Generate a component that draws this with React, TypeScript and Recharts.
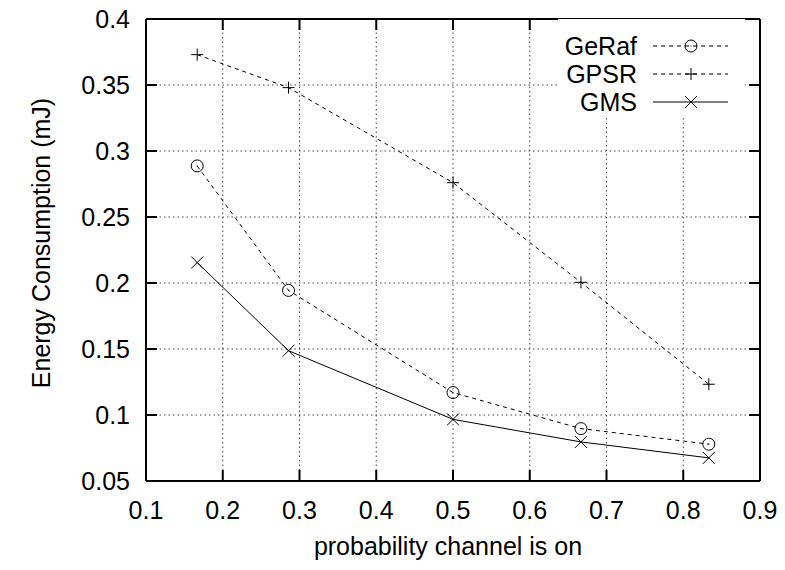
import {
  CartesianGrid,
  Label,
  Legend,
  Line,
  LineChart,
  XAxis,
  YAxis,
} from "recharts";

// probability that the channel is on, one entry per simulated point
const PROBABILITY = [0.1667, 0.2857, 0.5, 0.6667, 0.8333];

// energy consumption in mJ for each protocol
const GERAF = [0.2887, 0.1944, 0.117, 0.0897, 0.0779];
const GPSR = [0.373, 0.348, 0.276, 0.2005, 0.1233];
const GMS = [0.2155, 0.1487, 0.0967, 0.0796, 0.0675];

const X_TICKS = [0.1, 0.2, 0.3, 0.4, 0.5, 0.6, 0.7, 0.8, 0.9];
const Y_TICKS = [0.05, 0.1, 0.15, 0.2, 0.25, 0.3, 0.35, 0.4];

type MarkerKind = "circle" | "plus" | "cross";

const SERIES: { key: string; name: string; dash?: string; marker: MarkerKind }[] = [
  { key: "geraf", name: "GeRaf", dash: "4 4", marker: "circle" },
  { key: "gpsr", name: "GPSR", dash: "4 4", marker: "plus" },
  { key: "gms", name: "GMS", marker: "cross" },
];

const data = PROBABILITY.map((p, i) => ({
  p,
  geraf: GERAF[i],
  gpsr: GPSR[i],
  gms: GMS[i],
}));

const FONT = "'Liberation Sans', Arial, Helvetica, sans-serif";
const INK = "#000";

function Marker({ kind, cx, cy }: { kind: MarkerKind; cx: number; cy: number }) {
  const s = 6;
  if (kind === "circle") {
    return (
      <g>
        <circle cx={cx} cy={cy} r={s} fill="none" stroke={INK} strokeWidth={1} />
        <circle cx={cx} cy={cy} r={0.6} fill={INK} />
      </g>
    );
  }
  if (kind === "plus") {
    return (
      <g stroke={INK} strokeWidth={1}>
        <line x1={cx - s} y1={cy} x2={cx + s} y2={cy} />
        <line x1={cx} y1={cy - s} x2={cx} y2={cy + s} />
      </g>
    );
  }
  return (
    <g stroke={INK} strokeWidth={1}>
      <line x1={cx - s} y1={cy - s} x2={cx + s} y2={cy + s} />
      <line x1={cx - s} y1={cy + s} x2={cx + s} y2={cy - s} />
    </g>
  );
}

function makeDot(kind: MarkerKind) {
  return (props: any) => {
    const { cx, cy, index } = props;
    if (cx == null || cy == null) return <g key={index} />;
    return <Marker key={index} kind={kind} cx={cx} cy={cy} />;
  };
}

// gnuplot-style key: right-aligned names, sample line with the marker in the middle
function KeyBox(props: any) {
  const payload: any[] = props.payload ?? [];
  const rows = SERIES.map((s) => ({
    s,
    entry: payload.find((p) => p.dataKey === s.key),
  }));
  return (
    <svg width={187} height={97} style={{ display: "block" }}>
      <rect x={0} y={0} width={187} height={97} fill="#fff" />
      {rows.map(({ s, entry }, i) => {
        const y = 27 + i * 28;
        return (
          <g key={s.key}>
            <text
              x={79}
              y={y}
              dy="0.35em"
              textAnchor="end"
              fontFamily={FONT}
              fontSize={25}
              fill={INK}
            >
              {entry?.value ?? s.name}
            </text>
            <line
              x1={95}
              y1={y}
              x2={170}
              y2={y}
              stroke={INK}
              strokeWidth={1}
              strokeDasharray={s.dash}
            />
            <Marker kind={s.marker} cx={133} cy={y} />
          </g>
        );
      })}
    </svg>
  );
}

export default function App() {
  const tickStyle = { fontFamily: FONT, fontSize: 25, fill: INK };
  const frame = { stroke: INK, strokeWidth: 2 };
  return (
    <div style={{ position: "absolute", left: 0, top: 0, background: "#fff" }}>
      <LineChart
        width={785}
        height={570}
        data={data}
        margin={{ top: 18, right: 24, left: 0, bottom: 0 }}
      >
        <CartesianGrid stroke="#444" strokeDasharray="1.5 3" />
        <XAxis
          dataKey="p"
          type="number"
          domain={[0.1, 0.9]}
          ticks={X_TICKS}
          height={89}
          tickSize={-11}
          tickMargin={31}
          tick={tickStyle}
          axisLine={frame}
          tickLine={frame}
          allowDataOverflow
        >
          <Label
            value="probability channel is on"
            position="insideBottom"
            offset={15}
            dx={-5}
            style={{ fontFamily: FONT, fontSize: 25, fill: INK }}
          />
        </XAxis>
        <YAxis
          type="number"
          domain={[0.05, 0.4]}
          ticks={Y_TICKS}
          width={146}
          tickSize={-11}
          tickMargin={27}
          tick={tickStyle}
          axisLine={frame}
          tickLine={frame}
          allowDataOverflow
        >
          <Label
            value="Energy Consumption (mJ)"
            angle={-90}
            position="center"
            dx={-32}
            dy={-7}
            style={{ fontFamily: FONT, fontSize: 25, fill: INK }}
          />
        </YAxis>
        {/* mirrored axes close the frame with inward ticks */}
        <XAxis
          xAxisId="top"
          orientation="top"
          dataKey="p"
          type="number"
          domain={[0.1, 0.9]}
          ticks={X_TICKS}
          height={1}
          tickSize={-11}
          tickFormatter={() => ""}
          axisLine={frame}
          tickLine={frame}
          allowDataOverflow
        />
        <YAxis
          yAxisId="right"
          orientation="right"
          type="number"
          domain={[0.05, 0.4]}
          ticks={Y_TICKS}
          width={1}
          tickSize={-11}
          tickFormatter={() => ""}
          axisLine={frame}
          tickLine={frame}
          allowDataOverflow
        />
        <Legend
          layout="horizontal"
          verticalAlign="middle"
          align="center"
          content={<KeyBox />}
          wrapperStyle={{ left: 558, top: 19, width: 187, height: 97 }}
        />
        {/* carrier series so the mirrored axes share the same scales; not drawn */}
        <Line
          xAxisId="top"
          yAxisId="right"
          dataKey="gms"
          stroke="none"
          dot={false}
          activeDot={false}
          legendType="none"
          isAnimationActive={false}
        />
        {SERIES.map((s) => (
          <Line
            key={s.key}
            dataKey={s.key}
            name={s.name}
            stroke={INK}
            strokeWidth={1}
            strokeDasharray={s.dash}
            dot={makeDot(s.marker)}
            activeDot={false}
            isAnimationActive={false}
          />
        ))}
      </LineChart>
    </div>
  );
}
